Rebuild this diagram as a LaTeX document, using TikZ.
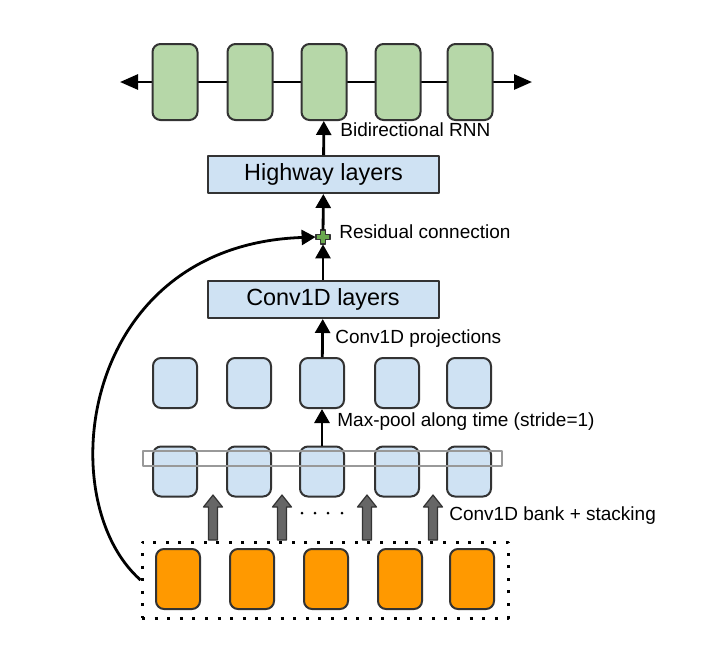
\documentclass[tikz,border=0pt]{standalone}
\usepackage{fontspec}
\setmainfont{Liberation Sans}
\usetikzlibrary{arrows.meta}
\definecolor{rnngreen}{HTML}{B6D7A8}
\definecolor{cellblue}{HTML}{CFE2F3}
\definecolor{inorange}{HTML}{FF9900}
\definecolor{edgegray}{HTML}{333333}
\definecolor{fatgray}{HTML}{666666}
\definecolor{stackgray}{HTML}{999999}
\definecolor{plusgreen}{HTML}{6AA84F}
\begin{document}
\begin{tikzpicture}[x=0.5pt, y=-0.5pt, line join=round, >={Triangle[length=7pt,width=7.5pt]},
		cell/.style={draw=edgegray, line width=1pt, rounded corners=4pt, minimum width=22pt, inner sep=0pt},
		rnncell/.style={cell, fill=rnngreen, minimum width=22.5pt, minimum height=38pt},
		poolcell/.style={cell, fill=cellblue, minimum height=25pt},
		incell/.style={cell, fill=inorange, minimum height=30pt},
		layerbox/.style={draw=edgegray, line width=1pt, fill=cellblue, minimum width=115.5pt, minimum height=18.5pt, inner sep=0pt, font=\fontsize{11.7}{14}\selectfont},
		flow/.style={->, line width=1.4pt},
		lbl/.style={anchor=west, inner sep=0pt, font=\fontsize{9.5}{11}\selectfont}]
				\useasboundingbox (0,0) rectangle (702,660);
				% bidirectional RNN
				\coordinate (rnnL) at (120,82);\coordinate (rnnR) at (532,82);
				\draw[{Triangle[length=9pt,width=7.5pt]}-{Triangle[length=9pt,width=7.5pt]}, line width=1.4pt] (rnnL)--(rnnR);
				\foreach \x [count=\i] in {175,250,324,398,470}\node[rnncell] (rnn\i) at (\x,82) {};
				% layers and residual
				\node[layerbox] (hw) at (323.5,174.5) {Highway layers};
				\node[layerbox] (cv) at (323,299.5) {Conv1D layers};
				\node[inner sep=0pt, minimum size=7pt] (plus) at (323,237) {};
				\draw[draw=edgegray, fill=plusgreen, line width=0.6pt] (plus) ++(-7,-2.5) -- ++(4.5,0) -- ++(0,-4.5) -- ++(5,0) -- ++(0,4.5) -- ++(4.5,0) -- ++(0,5) -- ++(-4.5,0) -- ++(0,4.5) -- ++(-5,0) -- ++(0,-4.5) -- ++(-4.5,0) -- cycle;
				% pooled and bank rows
				\foreach \x [count=\i] in {175,249,322,397,469}\node[poolcell] (pool\i) at (\x,383) {};
				\foreach \x [count=\i] in {175,249,322,397,469}\node[poolcell] (bank\i) at (\x,471.5) {};
				\node[draw=stackgray, line width=0.8pt, minimum width=179.5pt, minimum height=7.5pt, inner sep=0pt] (stack) at (322.5,458.5) {};
				% inputs
				\node[draw, line width=1.5pt, dash pattern=on 1.5pt off 4.8pt, minimum width=183pt, minimum height=38pt, inner sep=0pt] (inputs) at (325,580) {};
				\foreach \x [count=\i] in {178,252,326,400,472}\node[incell] (in\i) at (\x,579) {};
				\foreach \x in {213,282,367,433}\draw[draw=edgegray, fill=fatgray, line width=0.6pt] (\x-4.5,540)--(\x-4.5,507)--(\x-9.5,507)--(\x,495)--(\x+9.5,507)--(\x+4.5,507)--(\x+4.5,540)--cycle;
				\foreach \x in {302,315,328,342}\fill (\x,513) circle (1.5);
				% connectors
				\draw[flow] (hw)--(rnn3);
				\draw[flow] (plus)--(hw);
				\draw[flow] (cv)--(plus);
				\draw[flow] (pool3)--(cv);
				\draw[flow] (bank3)--(pool3);
				\draw[flow] (inputs.west) .. controls (50,500) and (80,245) .. (plus.west);
				% labels
				\node[lbl] (rnnlbl) at (340,130) {Bidirectional RNN};
				\node[lbl] (reslbl) at (339,232) {Residual connection};
				\node[lbl] (projlbl) at (335,339) {Conv1D projections};
				\node[lbl] (poollbl) at (337,422) {Max-pool along time (stride=1)};
				\node[lbl] (banklbl) at (449,516) {Conv1D bank + stacking};
		\end{tikzpicture}
\end{document}
